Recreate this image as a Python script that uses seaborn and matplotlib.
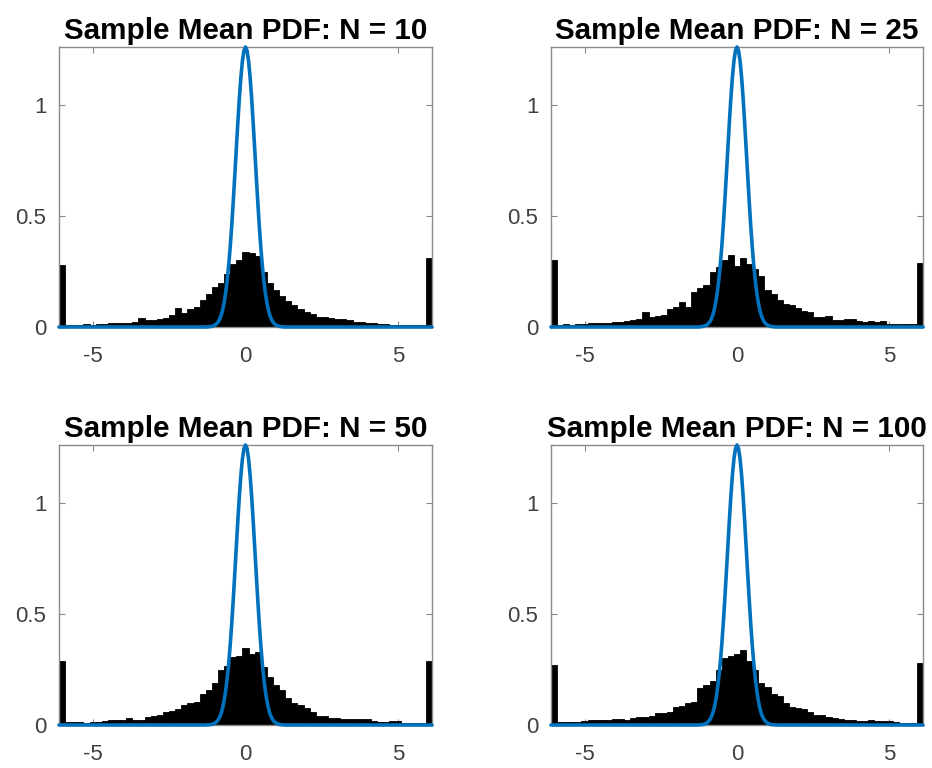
import numpy as np
import pandas as pd
import matplotlib
matplotlib.use("Agg")
import matplotlib.pyplot as plt
import seaborn as sns

# ---------------- data ----------------
titles = ["Sample Mean PDF: N = 10", "Sample Mean PDF: N = 25",
          "Sample Mean PDF: N = 50", "Sample Mean PDF: N = 100"]

# histogram bin centres -6.0 ... 6.0 (step 0.2); edge bins collect the tails
bin_centers = [round(-6.0 + 0.2 * k, 1) for k in range(61)]
bin_edges = [round(-6.1 + 0.2 * k, 1) for k in range(62)]

heights_n10 = [
    0.28, 0.008, 0.010, 0.009, 0.012, 0.011, 0.014, 0.013, 0.017, 0.016,
    0.020, 0.019, 0.024, 0.040, 0.030, 0.033, 0.036, 0.040, 0.052, 0.085,
    0.065, 0.080, 0.092, 0.120, 0.150, 0.180, 0.200, 0.240, 0.285, 0.300,
    0.340, 0.335, 0.320, 0.250, 0.200, 0.165, 0.140, 0.115, 0.100, 0.082,
    0.068, 0.060, 0.046, 0.044, 0.040, 0.036, 0.034, 0.030, 0.024, 0.022,
    0.018, 0.016, 0.014, 0.012, 0.010, 0.011, 0.009, 0.010, 0.008, 0.009,
    0.31]

heights_n25 = [
    0.30, 0.010, 0.012, 0.011, 0.013, 0.014, 0.016, 0.018, 0.017, 0.020,
    0.021, 0.022, 0.026, 0.032, 0.034, 0.068, 0.045, 0.050, 0.052, 0.080,
    0.088, 0.112, 0.088, 0.160, 0.175, 0.190, 0.250, 0.270, 0.300, 0.325,
    0.275, 0.310, 0.285, 0.260, 0.232, 0.168, 0.150, 0.122, 0.105, 0.098,
    0.085, 0.070, 0.066, 0.046, 0.044, 0.050, 0.033, 0.031, 0.034, 0.036,
    0.026, 0.024, 0.025, 0.023, 0.026, 0.014, 0.013, 0.012, 0.013, 0.012,
    0.29]

heights_n50 = [
    0.29, 0.015, 0.014, 0.012, 0.011, 0.012, 0.013, 0.020, 0.022, 0.021,
    0.023, 0.030, 0.024, 0.022, 0.038, 0.040, 0.045, 0.058, 0.062, 0.070,
    0.090, 0.100, 0.105, 0.140, 0.160, 0.190, 0.250, 0.265, 0.305, 0.310,
    0.345, 0.320, 0.330, 0.260, 0.215, 0.180, 0.158, 0.120, 0.100, 0.088,
    0.077, 0.060, 0.042, 0.040, 0.032, 0.030, 0.027, 0.028, 0.026, 0.027,
    0.025, 0.016, 0.015, 0.014, 0.016, 0.020, 0.011, 0.010, 0.011, 0.010,
    0.29]

heights_n100 = [
    0.27, 0.013, 0.014, 0.015, 0.014, 0.020, 0.022, 0.021, 0.023, 0.022,
    0.025, 0.026, 0.024, 0.033, 0.035, 0.036, 0.040, 0.052, 0.055, 0.058,
    0.080, 0.085, 0.100, 0.105, 0.165, 0.180, 0.200, 0.250, 0.300, 0.310,
    0.320, 0.340, 0.290, 0.250, 0.190, 0.170, 0.140, 0.130, 0.100, 0.082,
    0.078, 0.074, 0.060, 0.047, 0.044, 0.034, 0.031, 0.025, 0.024, 0.023,
    0.020, 0.019, 0.021, 0.018, 0.016, 0.017, 0.012, 0.010, 0.011, 0.010,
    0.28]

all_heights = [heights_n10, heights_n25, heights_n50, heights_n100]

# blue reference curve (same in all panels), right half
curve_half_x = [0.0, 0.05, 0.1, 0.15, 0.2, 0.25, 0.3, 0.35, 0.4, 0.45, 0.5,
                0.55, 0.6, 0.65, 0.7, 0.75, 0.8, 0.85, 0.9, 0.95, 1.0, 1.1,
                1.2, 1.3, 6.1]
curve_half_y = [1.262, 1.246, 1.200, 1.127, 1.033, 0.923, 0.804, 0.684, 0.567,
                0.458, 0.361, 0.278, 0.209, 0.153, 0.109, 0.076, 0.051, 0.034,
                0.022, 0.014, 0.0085, 0.003, 0.001, 0.0, 0.0]

x_ticks = [-5, 0, 5]
y_ticks = [0, 0.5, 1]
y_tick_labels = ["0", "0.5", "1"]
x_limits = (-6.1, 6.1)
y_limits = (0, 1.262)

curve_x = np.concatenate([-np.array(curve_half_x[::-1]), np.array(curve_half_x[1:])])
curve_y = np.concatenate([np.array(curve_half_y[::-1]), np.array(curve_half_y[1:])])

# ---------------- style ----------------
sns.set_style("ticks")
plt.rcParams["font.family"] = ["Liberation Sans", "DejaVu Sans"]

BLUE = "#0072BD"
AX_GRAY = "#8a8a8a"
TXT = "#404040"

fig = plt.figure(figsize=(9.32, 7.68), dpi=100)

W, H = 932, 768
boxes = [(59, 47, 373, 280), (551, 47, 372, 280),
         (59, 445, 373, 280), (551, 445, 372, 280)]

for (lx, ty, w, h), ttl, hts in zip(boxes, titles, all_heights):
    ax = fig.add_axes([lx / W, 1 - (ty + h) / H, w / W, h / H])
    df = pd.DataFrame({"x": bin_centers, "w": hts})
    sns.histplot(data=df, x="x", weights="w", bins=bin_edges, stat="count",
                 color="black", alpha=1.0, edgecolor="black", linewidth=0.6,
                 ax=ax)
    cdf = pd.DataFrame({"x": curve_x, "y": curve_y})
    sns.lineplot(data=cdf, x="x", y="y", color=BLUE, linewidth=2.6,
                 sort=False, ax=ax, clip_on=False, zorder=5)
    ax.set_xlim(*x_limits)
    ax.set_ylim(*y_limits)
    ax.set_xticks(x_ticks)
    ax.set_xticklabels([str(t) for t in x_ticks])
    ax.set_yticks(y_ticks)
    ax.set_yticklabels(y_tick_labels)
    ax.set_xlabel("")
    ax.set_ylabel("")
    for s in ax.spines.values():
        s.set_visible(True)
        s.set_color(AX_GRAY)
        s.set_linewidth(1.0)
    ax.tick_params(axis="both", direction="in", length=4, width=0.8,
                   color=AX_GRAY, labelcolor=TXT, labelsize=16,
                   top=True, right=True)
    ax.tick_params(axis="x", pad=14)
    ax.tick_params(axis="y", pad=9)
    ax.set_title(ttl, fontsize=21.3, fontweight="bold", color="black", pad=6)

fig.savefig("out.png", dpi=100)
